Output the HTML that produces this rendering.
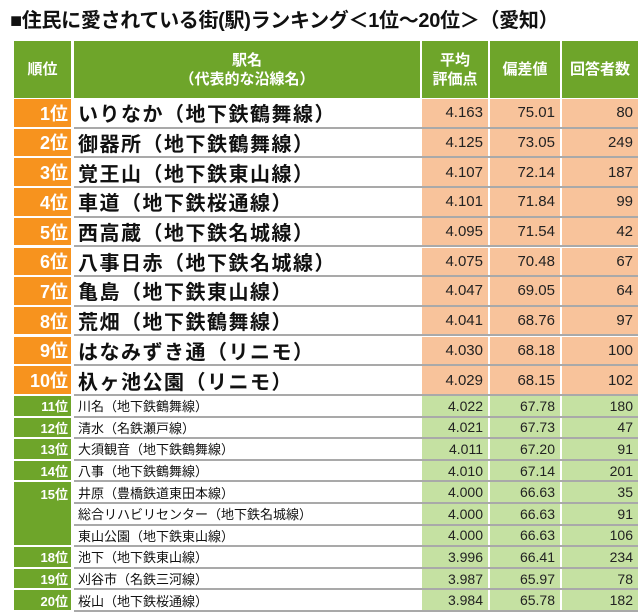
<!DOCTYPE html>
<html><head><meta charset="utf-8">
<style>
*{margin:0;padding:0;box-sizing:border-box}
body{width:640px;height:612px;background:#fff;position:relative;overflow:hidden;font-family:"Liberation Sans","Noto Sans CJK JP",sans-serif}
#title{position:absolute;left:10px;top:4px;font-size:20px;font-weight:bold;color:#111;white-space:nowrap;letter-spacing:-0.3px}
.c{position:absolute;display:flex;align-items:center;overflow:hidden;white-space:nowrap}
.hd{background:#6ea52a;color:#fff;font-weight:bold;justify-content:center;text-align:center;font-size:15px;line-height:19px}
.rk{justify-content:flex-end;color:#fff;font-weight:bold;padding-right:3px}
.nm{background:#fff;color:#111;padding-left:4px}
.num{justify-content:flex-end;padding-right:5px;color:#222;font-family:"Liberation Sans Narrow","Liberation Sans",sans-serif;font-size:14px}
.sep{position:absolute;height:2px;background:#a9a9a9}
</style></head><body>
<div id="title">■住民に愛されている街(駅)ランキング＜1位～20位＞（愛知）</div>
<div id="tbl"></div>
<script>
const ranks=["1位","2位","3位","4位","5位","6位","7位","8位","9位","10位","11位","12位","13位","14位","15位","","","18位","19位","20位"];
const names=["いりなか（地下鉄鶴舞線）","御器所（地下鉄鶴舞線）","覚王山（地下鉄東山線）","車道（地下鉄桜通線）","西高蔵（地下鉄名城線）","八事日赤（地下鉄名城線）","亀島（地下鉄東山線）","荒畑（地下鉄鶴舞線）","はなみずき通（リニモ）","杁ヶ池公園（リニモ）","川名（地下鉄鶴舞線）","清水（名鉄瀬戸線）","大須観音（地下鉄鶴舞線）","八事（地下鉄鶴舞線）","井原（豊橋鉄道東田本線）","総合リハビリセンター（地下鉄名城線）","東山公園（地下鉄東山線）","池下（地下鉄東山線）","刈谷市（名鉄三河線）","桜山（地下鉄桜通線）"];
const scores=["4.163","4.125","4.107","4.101","4.095","4.075","4.047","4.041","4.030","4.029","4.022","4.021","4.011","4.010","4.000","4.000","4.000","3.996","3.987","3.984"];
const devs=["75.01","73.05","72.14","71.84","71.54","70.48","69.05","68.76","68.18","68.15","67.78","67.73","67.20","67.14","66.63","66.63","66.63","66.41","65.97","65.78"];
const counts=["80","249","187","99","42","67","64","97","100","102","180","47","91","201","35","91","106","234","78","182"];

const T=document.getElementById('tbl');
const cols=[[14,57],[74,346],[422,66],[490,70],[562,76]];
function cell(cls,x,y,w,h,txt,name){
  const d=document.createElement('div');
  d.className='c '+cls;
  d.style.left=x+'px';d.style.top=y+'px';d.style.width=w+'px';d.style.height=h+'px';
  d.innerHTML=txt;
  
  
  T.appendChild(d);return d;
}
cell('hd',14,41,57,57,'順位','header-rank');
cell('hd',74,41,346,57,'駅名<br>（代表的な沿線名）','header-station');
cell('hd',422,41,66,57,'平均<br>評価点','header-average-score');
cell('hd',490,41,70,57,'偏差値','header-deviation');
cell('hd',562,41,76,57,'回答者数','header-respondents');

for(let i=0;i<20;i++){
  const big=i<10;
  const y=big?99+i*29.7:396+(i-10)*21.6;
  const h=big?27.5:19.6;
  const fs=big?20:13;
  const bg=big?'#f8c39b':'#c5e1a2';
  if(ranks[i]!==''){
    let rh=h;
    if(i===14) rh=21.6*2+h;
    const r=cell('rk',14,y,57,rh,ranks[i],'rank-'+(i+1));
    r.style.background=big?'#f7931e':'#6ea52a';
    r.style.fontSize=(big?18:13)+'px';
    if(i===14){r.style.alignItems='flex-start';r.style.paddingTop='2px';}
  }
  const n=cell('nm',74,y,346,h,names[i],'station-name-'+(i+1));
  n.style.fontSize=fs+'px';
  if(big){n.style.fontWeight='bold';n.style.letterSpacing='1.5px';}
  const vals=[scores[i],devs[i],counts[i]];
  const nn=['average-score-','deviation-','respondents-'];
  for(let k=0;k<3;k++){
    const c=cell('num',cols[k+2][0],y,cols[k+2][1],h,vals[k],nn[k]+(i+1));
    c.style.background=bg;
    c.style.fontSize=(big?15:14)+'px';
  }
  const s=document.createElement('div');
  s.className='sep';
  s.style.left='74px';s.style.width='564px';s.style.top=(y+h)+'px';
  
  
  T.appendChild(s);
}
</script>
</body></html>
